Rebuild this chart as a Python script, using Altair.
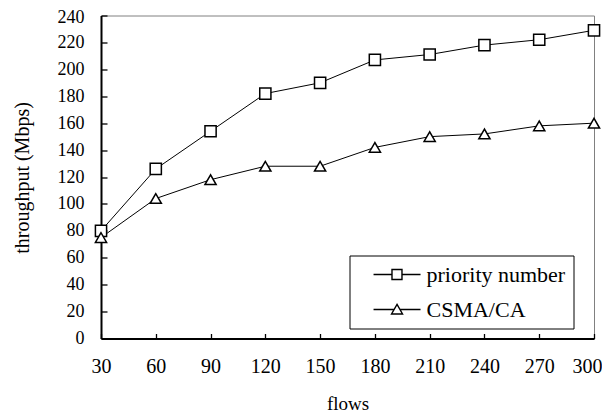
import altair as alt
import pandas as pd

# ---- data ----
flows = [30, 60, 90, 120, 150, 180, 210, 240, 270, 300]
priority_number = [80, 126, 154, 182, 190, 207, 211, 218, 222, 229]
csma_ca = [75, 104, 118, 128, 128, 142, 150, 152, 158, 160]
series_names = ["priority number", "CSMA/CA"]
x_tick_values = [30, 60, 90, 120, 150, 180, 210, 240, 270, 300]
y_tick_values = [0, 20, 40, 60, 80, 100, 120, 140, 160, 180, 200, 220, 240]

df = pd.DataFrame({
    "flows": flows + flows,
    "throughput": priority_number + csma_ca,
    "series": [series_names[0]] * len(flows) + [series_names[1]] * len(flows),
})

FONT = "Liberation Serif"

x_scale = alt.Scale(domain=[30, 300], nice=False, zero=False)
y_scale = alt.Scale(domain=[0, 240], nice=False, zero=True)

x_main = alt.Axis(
    values=x_tick_values, orient="bottom", title="flows", grid=False,
    domain=True, domainColor="black", domainWidth=2,
    ticks=False, tickSize=0,
    labelFont=FONT, labelFontSize=20, labelColor="black", labelPadding=18,
    labelFlush=False, labelOverlap=False,
    labelOffset={"condition": {"test": "datum.value >= 300", "value": -7}, "value": 0},
    titleFont=FONT, titleFontSize=19, titleFontWeight="normal", titleColor="black",
    titleBaseline="alphabetic", titleY=71,
)
y_main = alt.Axis(
    values=y_tick_values, orient="left", title="throughput (Mbps)", grid=False,
    domain=True, domainColor="black", domainWidth=2,
    ticks=False, tickSize=0,
    labelFont=FONT, labelFontSize=18, labelColor="black", labelPadding=17,
    labelFlush=False, labelOverlap=False,
    labelOffset={"condition": {"test": "datum.value >= 240", "value": 2}, "value": 0},
    titleFont=FONT, titleFontSize=20, titleFontWeight="normal", titleColor="black",
    titleAngle=270, titleBaseline="middle", titleAlign="center", titleX=-79, titleY=162,
)
# inward ticks: a second, label-less axis pulled inside the plot
x_ticks_axis = alt.Axis(
    values=x_tick_values, orient="bottom", offset=-5, grid=False, domain=False,
    labels=False, ticks=True, tickSize=5, tickColor="black", tickWidth=1.3, title=None,
)
y_ticks_axis = alt.Axis(
    values=y_tick_values, orient="left", offset=-6, grid=False, domain=False,
    labels=False, ticks=True, tickSize=6, tickColor="black", tickWidth=1.3, title=None,
)

lines = alt.Chart(df).mark_line(color="black", strokeWidth=1).encode(
    x=alt.X("flows:Q", scale=x_scale, axis=x_main),
    y=alt.Y("throughput:Q", scale=y_scale, axis=y_main),
    detail="series:N",
)

points = alt.Chart(df).mark_point(
    filled=True, fill="white", stroke="black", strokeWidth=1.5, opacity=1, size=125
).encode(
    x=alt.X("flows:Q", scale=x_scale, axis=x_ticks_axis),
    y=alt.Y("throughput:Q", scale=y_scale, axis=y_ticks_axis),
    shape=alt.Shape("series:N",
                    scale=alt.Scale(domain=series_names, range=["square", "triangle-up"]),
                    legend=None),
)

sq_path = "M0.56,0H2.61M3.72,0H5.78M2.61,-0.56H3.72V0.56H2.61Z"
tri_path = "M0.56,0H2.85M3.49,0H5.78M3.17,-0.56L3.78,0.5L2.56,0.5Z"

legend_layer = alt.Chart(df).transform_filter("false").mark_point(
    filled=False, color="black", strokeWidth=1.4, opacity=1
).encode(
    x=alt.X("flows:Q", scale=x_scale, axis=None),
    y=alt.Y("throughput:Q", scale=y_scale, axis=None),
    shape=alt.Shape(
        "series:N",
        scale=alt.Scale(domain=series_names, range=[sq_path, tri_path]),
        legend=alt.Legend(
            title=None, orient="none", legendX=248.5, legendY=240, direction="vertical",
            padding=8, fillColor="white", strokeColor="black",
            symbolSize=324, symbolFillColor="white", symbolStrokeColor="black",
            symbolStrokeWidth=1.4, symbolOpacity=1,
            labelFont=FONT, labelFontSize=22, labelColor="black", labelOffset=47,
            labelExpr="datum.label + '\u00a0\u00a0\u00a0'",
            labelLimit=400, rowPadding=13,
        ),
    ),
)

chart = alt.layer(lines, points, legend_layer).resolve_scale(
    shape="independent"
).resolve_axis(
    x="independent", y="independent"
).properties(
    width=493, height=323,
    padding={"left": 93, "top": 7.5, "right": 8, "bottom": 75},
    autosize=alt.AutoSizeParams(type="none"),
).configure_view(
    stroke="#808080", strokeWidth=1
)

chart.save("out.html", embed_options={"renderer": "svg", "actions": False})
